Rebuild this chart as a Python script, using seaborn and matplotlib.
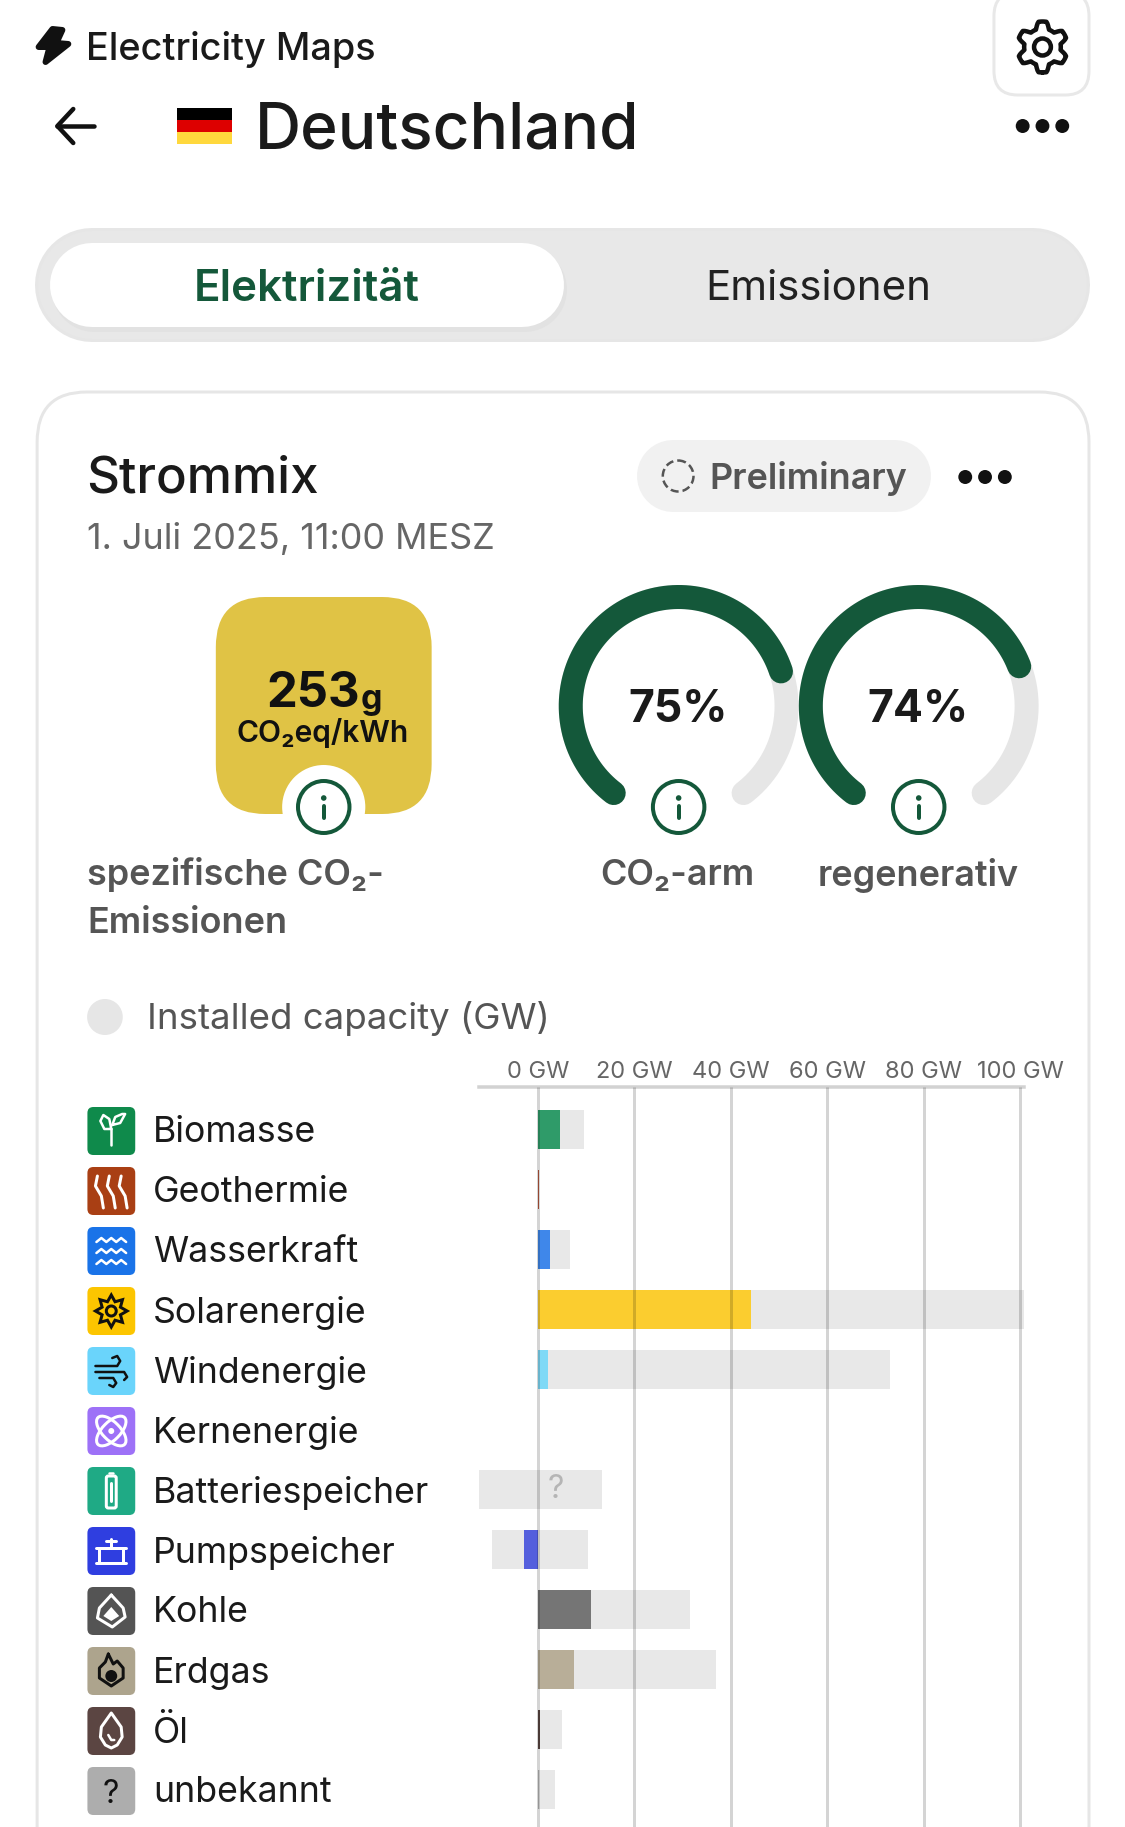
import numpy as np
import pandas as pd
import matplotlib
import matplotlib.pyplot as plt
from matplotlib.patches import FancyBboxPatch, Circle, Ellipse, Polygon, Rectangle
import seaborn as sns

matplotlib.use('Agg')

# data
sources = ['Biomasse', 'Geothermie', 'Wasserkraft', 'Solarenergie', 'Windenergie', 'Kernenergie',
           'Batteriespeicher', 'Pumpspeicher', 'Kohle', 'Erdgas', 'Öl', 'unbekannt']
production = [4.5, 0.25, 2.5, 44.1, 2, 0, 0, -3, 11, 7.4, 0.5, 0.2]
capacity_pos = [9.6, 0.25, 6.6, 100.8, 73, 0, 13.2, 10.3, 31.5, 36.9, 5, 3.5]
capacity_neg = [0, 0, 0, 0, 0, 0, -12.4, -9.5, 0, 0, 0, 0]
bar_colors = ['#2f9b69', '#b5553a', '#3f87ea', '#fbcd2f', '#7fd9f6', '#a981f8',
              '#e8e8e8', '#545fdd', '#757575', '#b8ae98', '#5a4642', '#b5b5b5']
tile_colors = ['#0f8a4b', '#a93f14', '#1a73e8', '#fcc500', '#6ad4fb', '#9d71f7',
               '#1faa85', '#2f3ee0', '#545454', '#ada48d', '#5b4542', '#adadad']
gw_ticks = [0, 20, 40, 60, 80, 100]
gw_labels = ['0 GW', '20 GW', '40 GW', '60 GW', '80 GW', '100 GW']
gauge_values = [75, 74]
gauge_names = ['CO₂-arm', 'regenerativ']

GREEN = '#14583a'
W, H = 1125, 1827


def pt(px):
    return px * 72 / 100


sns.set_theme(style='white')
plt.rcParams['font.family'] = ['Inter', 'DejaVu Sans']

fig = plt.figure(figsize=(W / 100, H / 100), dpi=100, facecolor='white')
bg = fig.add_axes([0, 0, 1, 1])
bg.set_xlim(0, W / 0.99)
bg.set_ylim(H, 0)
bg.axis('off')


def box(x0, y0, x1, y1, r, fc, ec='none', lw=0, z=1):
    bg.add_patch(FancyBboxPatch((x0, y0), x1 - x0, y1 - y0, boxstyle=f'round,pad=0,rounding_size={r}',
                                fc=fc, ec=ec, lw=pt(lw), zorder=z))


def line(xs, ys, color, lw, z=6):
    bg.plot(xs, ys, color=color, lw=pt(lw), solid_capstyle='round', solid_joinstyle='round', zorder=z)


def pill(x0, y0, x1, y1, color, z=1):
    r = (y1 - y0) / 2
    line([x0 + r, x1 - r], [y0 + r, y0 + r], color, 2 * r, z=z)


def label(x, y, s, size, color='#1a1a1a', ha='left', weight='normal', z=5):
    return bg.text(x, y, s, fontsize=pt(size), color=color, ha=ha, va='center_baseline',
                   fontweight=weight, zorder=z)


def dots(cx, y, color='#111111'):
    for dx in (-20, 0, 20):
        bg.add_patch(Circle((cx + dx, y), 7, fc=color, ec='none', zorder=5))


def info(cx, cy):
    bg.add_patch(Circle((cx, cy), 26, fc='white', ec=GREEN, lw=pt(4), zorder=5))
    bg.add_patch(Circle((cx, cy - 9), 2.8, fc=GREEN, ec='none', zorder=6))
    line([cx, cx], [cy - 1, cy + 11], GREEN, 4)


# header
bg.add_patch(Polygon([(53, 29), (39, 47), (50, 47), (46, 62), (69, 44), (57, 43), (63, 30)],
                     closed=True, fc='#111111', ec='#111111', lw=pt(6), joinstyle='round', zorder=5))
label(87, 46, 'Electricity Maps', 37.9, '#1a1a1a', weight='medium')
box(1004, -8, 1100, 95, 24, 'white', '#e8e8e8', 3)
angles = np.linspace(0, 2 * np.pi, 121)
gear_r = 22 + 3.5 * np.clip(1.8 * np.cos(6 * angles), -1, 1)
line(1053 + gear_r * np.sin(angles), 47 + gear_r * np.cos(angles), '#111111', 4.5)
bg.add_patch(Circle((1053, 47), 8.5, fc='none', ec='#111111', lw=pt(4.5), zorder=6))
line([58, 95], [126, 126], '#111111', 4.5)
line([74, 58, 74], [109, 126, 143], '#111111', 4.5)
for i, c in enumerate(['#000000', '#dd0000', '#ffd83d']):
    bg.add_patch(Rectangle((179, 108 + 12 * i), 55, 12, fc=c, ec='none', zorder=5))
label(257, 125, 'Deutschland', 64, '#1a1a1a', weight='medium')
dots(1053, 126)

# tabs
pill(36, 228, 1100, 342, '#e6e6e6')
pill(39, 231, 1097, 339, '#e8e8e8')
pill(52, 246, 572, 331, '#e2e2e2', z=1.5)
pill(51, 243, 569, 327, 'white', z=2)
label(310, 285, 'Elektrizität', 43.8, GREEN, ha='center', weight='semibold')
label(827, 285, 'Emissionen', 42, '#222222', ha='center')

# card
box(37.5, 392, 1100, 2000, 50, 'white', '#e6e6e6', 3)
label(86.5, 474, 'Strommix', 51, '#1a1a1a', weight='medium')
pill(644, 440, 940, 512, '#f1f1f1')
bg.add_patch(Circle((685, 476), 15.5, fc='none', ec='#555555', lw=pt(2.5), ls=(0, (3.2, 1.6)), zorder=5))
label(717, 475, 'Preliminary', 36, '#555555', weight='semibold')
dots(995, 477)
label(88, 536, '1. Juli 2025, 11:00 MESZ', 36, '#666666')

# intensity tile
box(218, 597, 436, 814, 50, '#e0c345')
bg.add_patch(Circle((327, 807), 42, fc='white', ec='none', zorder=3))
info(327, 807)
label(269, 689, '253', 49, '#111111', weight='bold')
label(364, 696, 'g', 34, '#111111', weight='bold')
label(326, 730, 'CO₂eq/kWh', 30, '#111111', ha='center', weight='semibold')
label(88, 871, 'spezifische CO₂-', 36, '#555555', weight='semibold')
label(88, 920, 'Emissionen', 36, '#555555', weight='semibold')

# gauges
gap = 37
sweep = 360 - 2 * gap
for cx, val, name in zip([685.5, 928], gauge_values, gauge_names):
    a = np.radians(np.linspace(gap, 360 - gap, 200))
    line(cx - 109 * np.sin(a), 706 + 109 * np.cos(a), '#e6e6e6', 24, z=3)
    a = np.radians(np.linspace(gap, gap + sweep * val / 100, 200))
    line(cx - 109 * np.sin(a), 706 + 109 * np.cos(a), GREEN, 24, z=4)
    info(cx, 807)
    label(cx - 1, 706, f'{val}%', 44.5, '#1a1a1a', ha='center', weight='bold')
    label(cx - 1, 872, name, 36, '#555555', ha='center', weight='semibold')

# capacity toggle
bg.add_patch(Circle((106, 1017), 18, fc='#e6e6e6', ec='none', zorder=5))
label(148.5, 1015, 'Installed capacity (GW)', 36.6, '#555555')


# source icons, drawn in tile-centred pixels
def icon(name, x, y):
    c = 'white' if name not in ('Solarenergie', 'Windenergie', 'Erdgas', 'unbekannt') else '#111111'
    drop = [(0, -18), (10, -4), (11, 6), (6, 14), (0, 17), (-6, 14), (-11, 6), (-10, -4), (0, -18)]
    if name == 'Biomasse':
        line([x, x], [y + 14, y - 2], c, 2.5)
        line([x, x - 7, x - 11, x - 8, x - 2, x], [y - 2, y - 2, y - 10, y - 16, y - 12, y - 2], c, 2.5)
        line([x + 1, x + 9, x + 14, x + 11, x + 4, x + 1], [y - 6, y - 8, y - 17, y - 17, y - 14, y - 6], c, 2.5)
    elif name == 'Geothermie':
        for dx in (-12, 0, 12):
            line([x + dx - 2, x + dx - 4, x + dx + 2, x + dx + 4],
                 [y - 15, y - 5, y + 5, y + 17], c, 3)
    elif name == 'Wasserkraft':
        for dy in (-11, 0, 11):
            line(x + np.array([-15, -10, -5, 0, 5, 10, 15]),
                 y + dy + np.array([2, -2, 2, -2, 2, -2, 2]), c, 2.5)
    elif name == 'Solarenergie':
        angs = np.radians(np.arange(0, 360, 22.5))
        rad = np.where(np.arange(16) % 2 == 0, 16, 10)
        bg.add_patch(Polygon(np.c_[x + rad * np.sin(angs), y + rad * np.cos(angs)], closed=True,
                             fc='none', ec=c, lw=pt(3), zorder=6))
        bg.add_patch(Circle((x, y), 5, fc='none', ec=c, lw=pt(3), zorder=6))
    elif name == 'Windenergie':
        line([x - 16, x + 6, x + 9, x + 6, x + 1], [y - 5, y - 5, y - 10, y - 15, y - 13], c, 2.5)
        line([x - 16, x + 13, x + 16, x + 13], [y + 1, y + 1, y + 6, y + 9], c, 2.5)
        line([x - 12, x + 2, x + 5, x + 2, x - 2], [y + 7, y + 7, y + 12, y + 16, y + 14], c, 2.5)
    elif name == 'Kernenergie':
        for ang in (45, -45):
            bg.add_patch(Ellipse((x, y), 38, 18, angle=ang, fc='none', ec=c, lw=pt(3), zorder=6))
        bg.add_patch(Circle((x, y), 3, fc=c, ec='none', zorder=6))
    elif name == 'Batteriespeicher':
        box(x - 5, y - 15, x + 5, y + 17, 2, 'none', c, 3, z=6)
        line([x - 2, x + 2], [y - 18, y - 18], c, 2.5)
        line([x, x], [y - 8, y + 10], c, 3)
    elif name == 'Pumpspeicher':
        line([x - 15, x + 15], [y - 3, y - 3], c, 3)
        line([x - 15, x + 15], [y + 12, y + 12], c, 3)
        line([x - 12, x - 12], [y - 3, y + 12], c, 3)
        line([x + 12, x + 12], [y - 3, y + 12], c, 3)
        line([x, x], [y - 12, y - 3], c, 3)
        line([x - 5, x + 5], [y - 10, y - 10], c, 3)
    elif name == 'Kohle':
        line([x, x + 12, x + 14, x + 1, x - 14, x - 12, x],
             [y - 16, y - 3, y + 6, y + 16, y + 7, y - 3, y - 16], c, 3)
        bg.add_patch(Polygon([(x - 8, y + 5), (x, y - 4), (x + 8, y + 5), (x, y + 10)], closed=True,
                             fc=c, ec='none', zorder=6))
    elif name == 'Erdgas':
        line([x - 3, x - 6, x - 12, x - 12, x, x + 12, x + 12, x + 6, x + 2, x - 3],
             [y - 17, y - 9, y - 3, y + 7, y + 15, y + 7, y - 3, y - 10, y - 7, y - 17], c, 3)
        bg.add_patch(Circle((x, y + 5), 6, fc=c, ec='none', zorder=6))
    elif name == 'Öl':
        bg.add_patch(Polygon([(x + a, y + b) for a, b in drop], closed=True, fc='none', ec=c,
                             lw=pt(3), joinstyle='round', zorder=6))
        line([x - 3, x, x + 3], [y + 4, y + 9, y + 9], c, 2.5)
    elif name == 'unbekannt':
        label(x, y, '?', 32, c, ha='center', z=6)


for name, col, i in zip(sources, tile_colors, range(len(sources))):
    yc = 1131 + 60 * i
    box(88.3, yc - 24, 136.6, yc + 24, 6, col, z=2)
    icon(name, 112.4, yc)

# bar chart, pixel range of the axes fixes the GW scale
x_per_gw = 4.82
x_zero = 538
left, right, top = 479, 1024, 1087
ax = fig.add_axes([left / W, 0, (right - left) / W, (H - top) / H], facecolor='none')
df = pd.DataFrame({'source': sources, 'production': production,
                   'capacity_pos': capacity_pos, 'capacity_neg': capacity_neg})
sns.barplot(data=df, x='capacity_pos', y='source', order=sources, color='#e8e8e8', width=0.65,
            saturation=1, orient='h', linewidth=0, ax=ax, zorder=1)
sns.barplot(data=df, x='capacity_neg', y='source', order=sources, color='#e8e8e8', width=0.65,
            saturation=1, orient='h', linewidth=0, ax=ax, zorder=1)
sns.barplot(data=df, x='production', y='source', order=sources, hue='source', hue_order=sources,
            palette=bar_colors, width=0.65, saturation=1, orient='h', linewidth=0, legend=False, ax=ax, zorder=2)
ax.set_xlim((left - x_zero) / x_per_gw, (right - x_zero) / x_per_gw)
ax.set_ylim((H - 1129.5) / 60, (top - 1129.5) / 60)
ax.set_xlabel('')
ax.set_ylabel('')
ax.xaxis.tick_top()
ax.set_xticks(gw_ticks, gw_labels, fontsize=pt(23.6), color='#666666')
ax.tick_params(axis='x', length=0, pad=pt(4.5))
ax.set_yticks(range(len(sources)), sources, fontsize=pt(35.7), color='#1a1a1a')
ax.tick_params(axis='y', length=0, pad=pt(left - 153))
for t in ax.get_yticklabels():
    t.set_ha('left')
    t.set_va('center_baseline')
for s in ('left', 'right', 'bottom'):
    ax.spines[s].set_visible(False)
ax.spines['top'].set_color('#d2d2d2')
ax.spines['top'].set_linewidth(pt(3.5))
ax.vlines(gw_ticks, ax.get_ylim()[0], ax.get_ylim()[1], colors='black', alpha=0.17, lw=pt(3), zorder=4)
ax.text(3.6, sources.index('Batteriespeicher'), '?', fontsize=pt(32), color='#b5b5b5', ha='center', va='center', zorder=5)

fig.savefig('out.png', dpi=100)
